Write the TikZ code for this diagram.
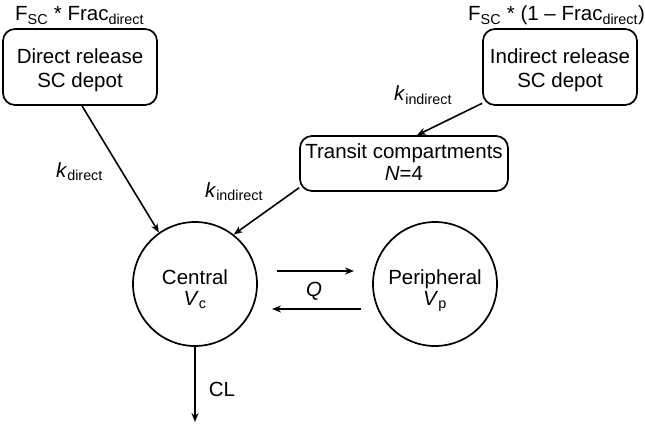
\documentclass[tikz,border=0pt]{standalone}
\usepackage{fontspec}
\setmainfont{Liberation Sans}
\usetikzlibrary{arrows.meta,calc}
\newcommand\shiftedtext[2]{\raisebox{-#1}[0pt][0pt]{\begin{tabular}{@{}c@{}}#2\end{tabular}}}
\begin{document}
\begin{tikzpicture}[x=1pt,y=-1pt,
  every node/.style={font=\fontsize{20.5}{24}\selectfont, inner sep=0pt},
  depot/.style={draw, line width=1.7pt, rounded corners=12pt, align=center},
  comp/.style={draw, circle, line width=1.7pt, minimum size=124pt, align=center},
  flow/.style={line width=1.6pt, -{Stealth[length=9pt,width=7pt]}},
  lbl/.style={anchor=base west}]
\useasboundingbox (0,0) rectangle (645,425);
\node[depot, minimum width=154pt, minimum height=76pt] (direct) at (80,67) {\shiftedtext{9pt}{Direct release\\SC depot}};
\node[depot, minimum width=154pt, minimum height=76pt] (indirect) at (560,67) {\shiftedtext{9pt}{Indirect release\\SC depot}};
\node[depot, minimum width=208pt, minimum height=55pt] (transit) at (404,163.5) {\fontsize{20.5}{22}\selectfont\shiftedtext{7pt}{Transit compartments\\\textit{N}=4}};
\node[comp] (central) at (195,284) {\fontsize{20.5}{21}\selectfont\shiftedtext{12pt}{Central\\\textit{V}\textsubscript{c}}};
\node[comp] (peripheral) at (435,284) {\fontsize{20.5}{21}\selectfont\shiftedtext{12pt}{Peripheral\\\textit{V}\textsubscript{p}}};
\coordinate (clend) at (195,422);
\node[lbl] (fdirect) at (15,21) {F\textsubscript{SC} * Frac\textsubscript{direct}};
\node[lbl] (findirect) at (468,21) {F\textsubscript{SC} * (1 -- Frac\textsubscript{direct})};
\node[lbl] (kdirect) at (56,177) {\textit{k}\textsubscript{direct}};
\node[lbl] (kind1) at (394,101) {\textit{k}\textsubscript{indirect}};
\node[lbl] (kind2) at (205,197) {\textit{k}\textsubscript{indirect}};
\node (q) at (314,291) {\textit{Q}};
\node (cl) at (222,389) {CL};
\draw[flow] ([xshift=2pt]direct.south) -- (central.125);
\draw[flow] (indirect.205) -- ([xshift=13pt]transit.north);
\draw[flow] (transit.193) -- (central.52);
\draw[flow] ($(central.center)+(82,-13)$) -- ($(peripheral.center)+(-81,-13)$);
\draw[flow] ($(peripheral.center)+(-74,25)$) -- ($(central.center)+(77,25)$);
\draw[flow] (central.south) -- (clend);
\end{tikzpicture}
\end{document}
